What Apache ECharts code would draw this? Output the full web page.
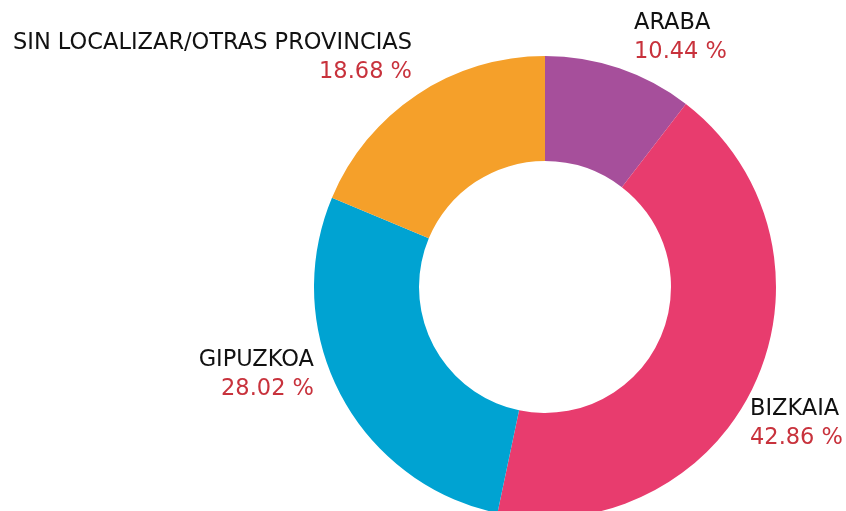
<!DOCTYPE html>
<html>
<head>
<meta charset="utf-8">
<script src="https://cdn.jsdelivr.net/npm/echarts@6/dist/echarts.min.js"></script>
<style>
  html, body { margin: 0; padding: 0; background: #fff; }
  #chart { width: 846px; height: 511px; }
</style>
</head>
<body>
<div id="chart"></div>
<script>
const categories = ["ARABA", "BIZKAIA", "GIPUZKOA", "SIN LOCALIZAR/OTRAS PROVINCIAS"];
const shares = [10.44, 42.86, 28.02, 18.68];
const colors = ["#a64f9b", "#e83c6e", "#00a3d2", "#f5a02a"];
// label anchor per slice: [x, y of top, align]
const labelSpots = [
  [634, 9, "left"],
  [750, 395, "left"],
  [314, 346, "right"],
  [412, 29, "right"],
];

const chart = echarts.init(document.getElementById("chart"));
const option = {
  animation: false,
  series: [
    {
      type: "pie",
      center: [545, 287],
      radius: [126, 231],
      startAngle: 90,
      clockwise: true,
      silent: true,
      data: categories.map((c, i) => ({
        name: c,
        value: shares[i],
        itemStyle: { color: colors[i] },
      })),
      label: {
        show: true,
        position: "inside",
        overflow: "none",
        formatter: (p) => "{n|" + p.name + "}\n{v|" + p.value.toFixed(2) + " %}",
        rich: {
          n: { fontFamily: "DejaVu Sans", fontSize: 22.5, color: "#111", lineHeight: 29 },
          v: { fontFamily: "DejaVu Sans", fontSize: 22.5, color: "#c8323c", lineHeight: 29 },
        },
      },
      labelLine: { show: false },
      labelLayout: (params) => {
        const s = labelSpots[params.dataIndex];
        return { x: s[0], y: s[1], align: s[2], verticalAlign: "top" };
      },
    },
  ],
};
chart.setOption(option);
</script>
</body>
</html>
